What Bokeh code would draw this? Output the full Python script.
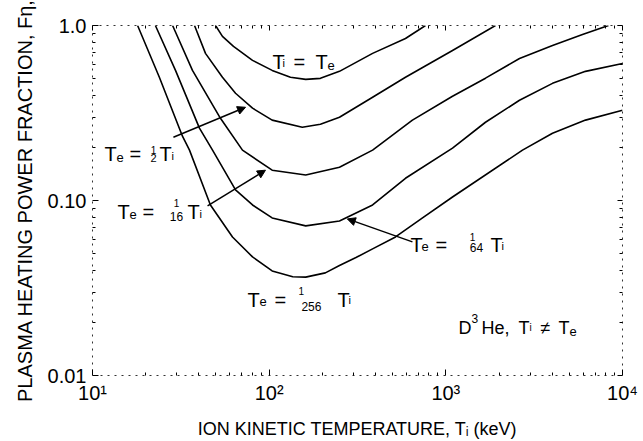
from bokeh.plotting import figure
from bokeh.models import LogAxis, FixedTicker, Label, Arrow, NormalHead
from bokeh.embed import file_html
from bokeh.resources import INLINE

# ---- data (T_i in keV, heating power fraction) ----
T_eq = [49.7, 54.4, 62.8, 80.5, 104, 132, 161, 195, 250, 385, 591, 767]
F_eq = [1.0, 0.866, 0.759, 0.632, 0.554, 0.506, 0.492, 0.499, 0.547, 0.693, 0.843, 1.0]

T_half = [37.8, 43.6, 54.4, 64.5, 80.5, 104, 154, 195, 250, 385, 591, 1091, 1910]
F_half = [1.0, 0.693, 0.506, 0.41, 0.337, 0.288, 0.262, 0.273, 0.299, 0.389, 0.506, 0.72, 1.0]

T_16 = [28.4, 36.8, 53.0, 70.6, 104, 161, 250, 385, 647, 1091, 1677, 2612, 4016, 5937, 8330]
F_16 = [1.0, 0.554, 0.295, 0.194, 0.149, 0.140, 0.155, 0.194, 0.288, 0.394, 0.50, 0.648, 0.769, 0.888, 1.0]

T_64 = [22.7, 29.5, 40.3, 47.8, 64.5, 80.5, 104, 161, 250, 385, 591, 1091, 1677, 2612, 4016, 6175, 10000]
F_64 = [1.0, 0.554, 0.259, 0.194, 0.115, 0.0943, 0.0795, 0.0716, 0.0764, 0.0943, 0.134, 0.199, 0.280, 0.374, 0.467, 0.547, 0.607]

T_256 = [18.0, 23.9, 32.3, 35.4, 46.5, 62.0, 80.5, 104, 136, 161, 208, 250, 310, 385, 519, 738, 1091, 2716, 4016, 6175, 10000]
F_256 = [1.0, 0.506, 0.233, 0.194, 0.0943, 0.0619, 0.0476, 0.0396, 0.0367, 0.0365, 0.0386, 0.0425, 0.0472, 0.0529, 0.0619, 0.0795, 0.1047, 0.194, 0.2424, 0.288, 0.328]

x_ticks = [10, 100, 1000, 10000]
x_tick_labels = ["10¹", "10²", "10³", "10⁴"]
y_ticks = [0.01, 0.1, 1]
y_tick_labels = ["0.01", "0.10", "1.0"]

FONT = "Liberation Sans"

p = figure(width=643, height=441, x_axis_type="log", y_axis_type="log",
           x_range=(10, 10000), y_range=(0.01, 1.0),
           output_backend="svg", toolbar_location=None,
           min_border_left=92, min_border_right=21, min_border_top=25, min_border_bottom=65)
p.xgrid.visible = False
p.ygrid.visible = False
p.background_fill_color = "white"
p.border_fill_color = "white"
p.outline_line_color = "black"
p.outline_line_alpha = 0.8
p.outline_line_dash = "2 5"
p.outline_line_width = 1

x_minor = [m * d for d in (10, 100, 1000) for m in range(2, 10)]
y_minor = [m * d for d in (0.01, 0.1) for m in range(2, 10)]

p.xaxis.ticker = FixedTicker(ticks=x_ticks, minor_ticks=x_minor)
p.yaxis.ticker = FixedTicker(ticks=y_ticks, minor_ticks=y_minor)
p.xaxis.major_label_overrides = {t: s for t, s in zip(x_ticks, x_tick_labels)}
p.yaxis.major_label_overrides = {t: s for t, s in zip(y_ticks, y_tick_labels)}

for ax in (p.xaxis[0], p.yaxis[0]):
    ax.axis_line_color = None
    ax.major_tick_in = 6
    ax.major_tick_out = 0
    ax.minor_tick_in = 3
    ax.minor_tick_out = 0
    ax.major_tick_line_color = "black"
    ax.minor_tick_line_color = "black"
    ax.major_label_text_font = FONT
    ax.major_label_text_font_size = "20px"
    ax.major_label_text_color = "black"
    ax.axis_label_text_font = FONT
    ax.axis_label_text_font_style = "normal"
    ax.axis_label_text_color = "black"

p.xaxis.axis_label = "ION KINETIC TEMPERATURE, Tᵢ (keV)"
p.xaxis.axis_label_text_font_size = "18px"
p.xaxis.major_label_standoff = 6
p.xaxis.axis_label_standoff = 12
p.yaxis.axis_label = "PLASMA HEATING POWER FRACTION, Fη,"
p.yaxis.axis_label_text_font_size = "20px"
p.yaxis.major_label_standoff = 6
p.yaxis.axis_label_standoff = 9

for side, tick, mnr in (("right", y_ticks, y_minor), ("above", x_ticks, x_minor)):
    ax = LogAxis(ticker=FixedTicker(ticks=tick, minor_ticks=mnr),
                 major_label_text_font_size="5px", major_label_text_color=None,
                 major_label_standoff=0,
                 axis_line_color=None, major_tick_in=5, major_tick_out=0,
                 minor_tick_in=3, minor_tick_out=0)
    p.add_layout(ax, side)

for xs, ys in ((T_eq, F_eq), (T_half, F_half), (T_16, F_16), (T_64, F_64), (T_256, F_256)):
    p.line(xs, ys, line_color="black", line_width=1.6, line_join="round")

# arrows
for xs_, ys_, xe_, ye_ in ((28.7, 0.230, 73.5, 0.341),
                           (44.8, 0.0931, 95.3, 0.149),
                           (647, 0.058, 277, 0.0785)):
    p.add_layout(Arrow(end=NormalHead(size=8, fill_color="black", line_color="black"),
                       x_start=xs_, y_start=ys_, x_end=xe_, y_end=ye_,
                       line_color="black", line_width=1.5))

BASE_DY = 5


def put(x, y, parts):
    for txt, dx, dy, size, align in parts:
        p.add_layout(Label(x=x, y=y, x_offset=dx, y_offset=dy + BASE_DY, text=txt,
                           text_font=FONT, text_font_size=f"{size}px",
                           text_align=align, text_baseline="alphabetic",
                           text_color="black"))


# T_i = T_e
put(104.4, 0.576, [("T", 0, 0, 20, "left"), ("i", 10, -1, 11, "left"),
                   ("=", 21, 0, 20, "left"), ("T", 43, 0, 20, "left"),
                   ("e", 55, -3, 13, "left")])
# T_e = 1/2 T_i
put(11.69, 0.1724, [("T", 0, 0, 20, "left"), ("e", 12, -3, 13, "left"),
                    ("=", 25, 0, 20, "left"), ("1", 49, 4, 10, "center"),
                    ("2", 49, -4, 11, "center"), ("T", 55, 0, 20, "left"),
                    ("i", 67, -2, 11, "left")])
# T_e = 1/16 T_i
put(13.85, 0.0805, [("T", 0, 0, 20, "left"), ("e", 12, -3, 13, "left"),
                    ("=", 25, 0, 20, "left"), ("1", 59, 9, 10, "center"),
                    ("16", 59, -5, 12, "center"), ("T", 70, 0, 20, "left"),
                    ("i", 82, -2, 11, "left")])
# T_e = 1/64 T_i
put(631, 0.0522, [("T", 0, 0, 20, "left"), ("e", 11, -2, 13, "left"),
                  ("=", 25, 0, 20, "left"), ("1", 62, 8, 10, "center"),
                  ("64", 66, -3, 12, "center"), ("T", 80, 0, 20, "left"),
                  ("i", 91, -1, 11, "left")])
# T_e = 1/256 T_i
put(75.3, 0.0254, [("T", 0, 0, 20, "left"), ("e", 12, -2, 13, "left"),
                   ("=", 27, 0, 20, "left"), ("1", 54, 9, 10, "center"),
                   ("256", 64, -7, 12, "center"), ("T", 90, 0, 20, "left"),
                   ("i", 101, 0, 11, "left")])
# D3He, T_i != T_e
put(1179, 0.01758, [("D", 0, 0, 18, "left"), ("3", 13, 9, 12, "left"),
                    ("He,", 23, 0, 18, "left"), ("T", 60, 0, 18, "left"),
                    ("i", 71, 0, 10, "left"), ("≠", 82, 0, 18, "left"),
                    ("T", 100, 0, 18, "left"), ("e", 111, -4, 13, "left")])

open("out.html", "w").write(file_html(p, INLINE))
